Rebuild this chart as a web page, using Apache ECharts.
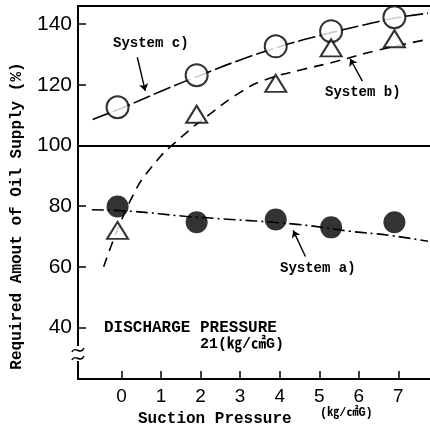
<!DOCTYPE html>
<html>
<head>
<meta charset="utf-8">
<script src="https://cdn.jsdelivr.net/npm/echarts@6/dist/echarts.min.js"></script>
<style>
  html, body { margin: 0; padding: 0; background: #fff; }
  #chart { width: 430px; height: 433px; }
</style>
</head>
<body>
<div id="chart"></div>
<script>
// measured points (suction pressure, % oil supply)
const pointX = [-0.1, 1.9, 3.9, 5.3, 6.9];
const systemC = [112.6, 123.2, 132.7, 137.7, 142.3];
const systemB = [72, 110.3, 120.5, 132.2, 135.2];
const systemA = [79.9, 74.7, 75.6, 73, 74.7];

// hand drawn trend curves
const fitCX = [-0.73, 0, 1, 2, 3, 4, 5, 6, 7, 7.75];
const fitCY = [108.6, 112.3, 117.9, 123.2, 128.2, 132.6, 136.2, 139.4, 142.2, 143.6];
const fitBX = [-0.45, 0.23, 0.8, 1.49, 2.3, 3, 3.6, 4.5, 5.3, 6.5, 7.75];
const fitBY = [60, 82, 93.5, 102.5, 111, 117.5, 121.5, 124.8, 127.3, 131.5, 135];
const fitAX = [-0.75, 0.25, 1.65, 2.32, 4.44, 5.78, 6.75, 7.75];
const fitAY = [78.8, 78.3, 76.6, 76, 74, 71.7, 70.4, 68.4];

const xTicks = [0, 1, 2, 3, 4, 5, 6, 7];
const yTicks = [40, 60, 80, 100, 120, 140];

const mono = 'Liberation Mono, "Noto Sans CJK JP", monospace';
const pair = (xs, ys) => xs.map((x, i) => [x, ys[i]]);

const chart = echarts.init(document.getElementById('chart'));

const txt = (x, y, text, size) => ({
  type: 'text', x: x, y: y, z: 10,
  style: { text: text, font: 'bold ' + size + 'px ' + mono, fill: '#000', verticalAlign: 'middle' }
});
const tilde = (y) => ({
  type: 'bezierCurve', z: 21,
  shape: { x1: 72, y1: y + 2, cpx1: 75, cpy1: y - 5, cpx2: 80, cpy2: y + 6, x2: 84, y2: y - 2 },
  style: { stroke: '#000', lineWidth: 1.6, fill: null }
});

const option = {
  animation: false,
  backgroundColor: '#fff',
  grid: { left: 78, right: 0, top: 6, bottom: 54 },
  xAxis: [{
    type: 'value', min: -1.1, max: 7.8,
    axisLine: { onZero: false, lineStyle: { color: '#000', width: 2 } },
    axisTick: { inside: true, length: 8, customValues: xTicks, lineStyle: { color: '#000', width: 1.5 } },
    axisLabel: { customValues: xTicks, color: '#000', fontSize: 19, fontFamily: 'Liberation Sans', margin: 8 },
    splitLine: { show: false }
  }, {
    type: 'value', position: 'top', min: -1.1, max: 7.8,
    axisLine: { show: true, onZero: false, lineStyle: { color: '#000', width: 2 } },
    axisTick: { show: false }, axisLabel: { show: false }, splitLine: { show: false }
  }],
  yAxis: {
    type: 'value', min: 23, max: 146,
    axisLine: { show: true, onZero: false, lineStyle: { color: '#000', width: 2 } },
    axisTick: { inside: true, length: 8, customValues: yTicks, lineStyle: { color: '#000', width: 1.5 } },
    axisLabel: { customValues: yTicks, color: '#000', fontSize: 21, fontFamily: 'Liberation Sans', margin: 6 },
    splitLine: { show: false }
  },
  series: [
    {
      type: 'line', data: pair(fitCX, fitCY), smooth: true, symbol: 'none',
      lineStyle: { color: '#000', width: 1.6, type: [18, 4] },
      markLine: {
        silent: true, symbol: 'none', label: { show: false },
        lineStyle: { color: '#000', width: 2, type: 'solid' },
        data: [{ yAxis: 100 }]
      }
    },
    {
      type: 'line', data: pair(fitBX, fitBY), smooth: true, symbol: 'none',
      lineStyle: { color: '#000', width: 1.6, type: [10, 7] }
    },
    {
      type: 'line', data: pair(fitAX, fitAY), smooth: true, symbol: 'none',
      lineStyle: { color: '#000', width: 1.6, type: [12, 4, 2, 4] }
    },
    {
      name: 'System c)', type: 'scatter', data: pair(pointX, systemC),
      symbol: 'circle', symbolSize: 22, z: 5,
      itemStyle: { color: '#fff', borderColor: '#000', borderWidth: 2 }
    },
    {
      name: 'System b)', type: 'scatter', data: pair(pointX, systemB),
      symbol: 'triangle', symbolSize: [21, 17], z: 5,
      itemStyle: { color: '#fff', borderColor: '#000', borderWidth: 2 }
    },
    {
      name: 'System a)', type: 'scatter', data: pair(pointX, systemA),
      symbol: 'circle', symbolSize: 22, z: 5,
      itemStyle: { color: '#000' }
    },
    {
      // pointer arrows to each curve
      type: 'lines', coordinateSystem: 'cartesian2d', z: 6,
      symbol: ['none', 'arrow'], symbolSize: 7,
      lineStyle: { color: '#000', width: 1.4, opacity: 1 },
      data: [
        { coords: [[0.4, 129.1], [0.6, 118.0]] },
        { coords: [[6.09, 121.2], [5.78, 128.6]] },
        { coords: [[4.65, 63.4], [4.34, 72.0]] }
      ]
    }
  ],
  graphic: [
    txt(113, 43, 'System c)', 14),
    txt(325, 92, 'System b)', 14),
    txt(280, 268, 'System a)', 14),
    txt(104, 328, 'DISCHARGE PRESSURE', 16),
    txt(200, 344, '21(㎏/㎠G)', 15),
    txt(138, 419, 'Suction Pressure', 16),
    txt(320, 413, '(㎏/㎠G)', 12),
    {
      type: 'text', x: 17, y: 216, rotation: Math.PI / 2, z: 10,
      style: { text: 'Required Amout of Oil Supply (%)', font: 'bold 16px ' + mono, fill: '#000', align: 'center', verticalAlign: 'middle' }
    },
    // axis break mark
    { type: 'rect', shape: { x: 72, y: 346, width: 12, height: 15 }, style: { fill: '#fff' }, z: 20 },
    tilde(350),
    tilde(358)
  ]
};

chart.setOption(option);
</script>
</body>
</html>
